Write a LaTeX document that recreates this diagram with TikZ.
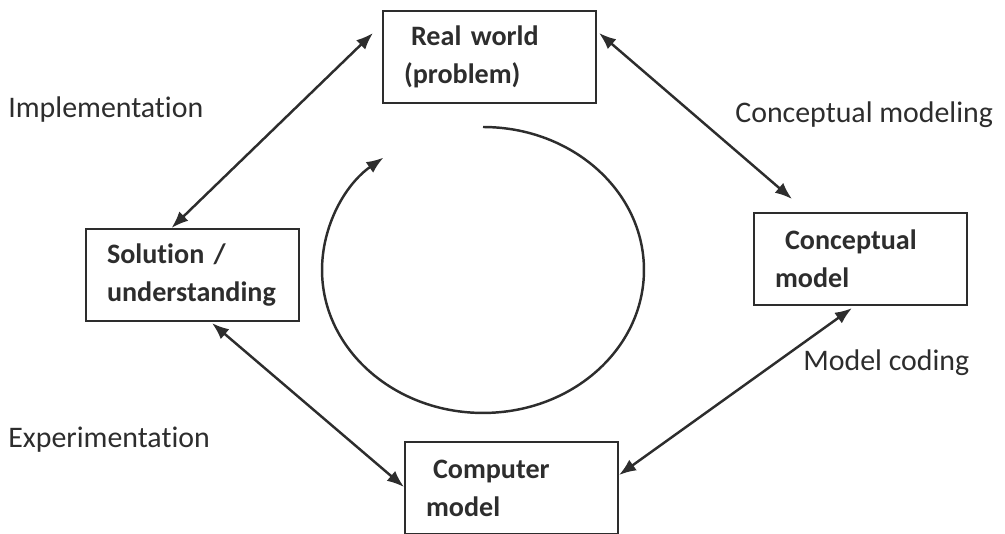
\documentclass[tikz,border=0pt]{standalone}
\usepackage{fontspec}
\setmainfont{Carlito}[Ligatures={NoCommon}]
\usetikzlibrary{arrows.meta}
\definecolor{inkgray}{RGB}{45,45,45}

\tikzset{
  stage/.style={draw=inkgray, line width=1.2pt, rectangle, anchor=north west,
    minimum width=4.26cm, minimum height=1.84cm, inner xsep=0.42cm,
    text width=3.42cm, align=left, text=inkgray,
    font=\fontsize{16}{21.6}\selectfont\bfseries},
  phase/.style={anchor=base west, inner sep=0pt, text=inkgray,
    font=\fontsize{17}{20}\selectfont},
  link/.style={draw=inkgray, line width=1.4pt,
    {Latex[length=0.34cm,width=0.26cm]}-{Latex[length=0.34cm,width=0.26cm]}}
}

\begin{document}
\begin{tikzpicture}[x=0.02cm,y=-0.02cm]
   \useasboundingbox (0,0) rectangle (1005,534);
   % the four stages
   \node[stage] (real) at (382,10) {\hspace*{0.14cm}Real world\\(problem)};
   \node[stage] (concept) at (753,212) {\hspace*{0.2cm}Conceptual\\model};
   \node[stage] (computer) at (404,441) {\hspace*{0.14cm}Computer\\model};
   \node[stage] (solution) at (85,228) {Solution /\\understanding};
   % the phase labels
   \node[phase] (impl) at (8,117) {Implementation};
   \node[phase] (cmod) at (735,122) {Conceptual modeling};
   \node[phase] (mcode) at (803,370) {Model coding};
   \node[phase] (expe) at (8,447) {Experimentation};
   % the links
   \draw[link] ([shift={(-9,23)}]real.north west) -- ([shift={(-21,0)}]solution.north);
   \draw[link] ([shift={(2,23)}]real.north east) -- ([shift={(39,-13)}]concept.north west);
   \draw[link] ([shift={(99,2)}]concept.south west) -- ([shift={(0,34)}]computer.north east);
   \draw[link] ([shift={(0,46)}]computer.north west) -- ([shift={(127,1)}]solution.south west);
   % the cycle
   \draw[draw=inkgray, line width=1.4pt, -{Latex[length=0.34cm,width=0.26cm]}]
     (483,127) arc[start angle=90, end angle=-231.8, x radius=3.22cm, y radius=2.86cm];
\end{tikzpicture}
\end{document}
